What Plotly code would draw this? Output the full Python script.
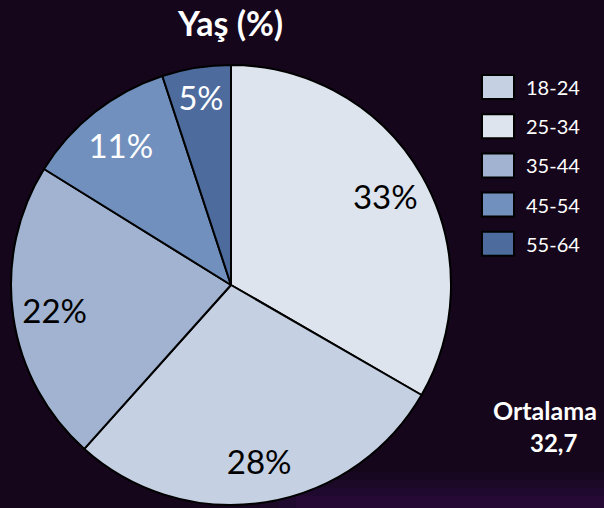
import plotly.graph_objects as go

# slices as drawn, clockwise from 12 o'clock
slice_labels = ["25-34", "18-24", "35-44", "45-54", "55-64"]
slice_values = [33, 28, 22, 11, 5]
slice_colors = ["#dde4ee", "#c5d0e2", "#a1b3d0", "#7190bd", "#4d6b9c"]
slice_text_colors = ["#000000", "#000000", "#000000", "#ffffff", "#ffffff"]

# legend order
legend_labels = ["18-24", "25-34", "35-44", "45-54", "55-64"]

title_text = "Yaş (%)"
avg_label = "Ortalama"
avg_value = "32,7"

W, H = 604, 508
FONT = "Lato"
pie_domain = dict(x = [11 / W, 451 / W], y = [3 / H, 443 / H])

fig = go.Figure()

# filled pie
fig.add_trace(go.Pie(
    labels = slice_labels,
    values = slice_values,
    textinfo = "none",
    marker = dict(colors = slice_colors, line = dict(color = "#000000", width = 2)),
    sort = False,
    direction = "clockwise",
    rotation = 0,
    showlegend = False,
    hoverinfo = "label+percent",
    domain = pie_domain,
))

# transparent ring on top just to carry the labels near the outer edge
fig.add_trace(go.Pie(
    labels = slice_labels,
    values = slice_values,
    hole = 0.62,
    text = [f"{v}%" for v in slice_values],
    textinfo = "text",
    textposition = "inside",
    insidetextorientation = "horizontal",
    insidetextfont = dict(family = FONT, size = 33, color = slice_text_colors),
    marker = dict(colors = ["rgba(0,0,0,0)"] * len(slice_values), line = dict(width = 0)),
    sort = False,
    direction = "clockwise",
    rotation = 0,
    showlegend = False,
    hoverinfo = "skip",
    domain = pie_domain,
))

shapes = []
# faint purple glow along the bottom edge
for i, op in enumerate([0.10, 0.14, 0.18, 0.22]):
    shapes.append(dict(type = "rect", xref = "paper", yref = "paper", layer = "below",
                       x0 = 0.40 + i * 0.03, x1 = 1.0, y0 = 0, y1 = (36 - i * 8) / H,
                       fillcolor = "#3a0f52", opacity = op, line = dict(width = 0)))

annotations = []
color_of = dict(zip(slice_labels, slice_colors))
for i, lab in enumerate(legend_labels):
    yc = 1 - (87 + i * 39.2) / H
    shapes.append(dict(type = "rect", xref = "paper", yref = "paper",
                       x0 = 482 / W, x1 = 514 / W, y0 = yc - 12 / H, y1 = yc + 12 / H,
                       fillcolor = color_of[lab], line = dict(color = "#000000", width = 2)))
    annotations.append(dict(text = lab, xref = "paper", yref = "paper", x = 524 / W, y = yc,
                            xanchor = "left", yanchor = "middle", showarrow = False,
                            font = dict(family = FONT, size = 20, color = "#ffffff")))

annotations.append(dict(text = "<b>" + title_text + "</b>", xref = "paper", yref = "paper",
                        x = 230 / W, y = 1, xanchor = "center", yanchor = "top",
                        showarrow = False, font = dict(family = FONT, size = 34, color = "#ffffff")))
annotations.append(dict(text = "<b>" + avg_label + "</b>", xref = "paper", yref = "paper",
                        x = 545 / W, y = 1 - 410 / H, xanchor = "center", yanchor = "middle",
                        showarrow = False, font = dict(family = FONT, size = 25, color = "#ffffff")))
annotations.append(dict(text = "<b>" + avg_value + "</b>", xref = "paper", yref = "paper",
                        x = 553 / W, y = 1 - 442 / H, xanchor = "center", yanchor = "middle",
                        showarrow = False, font = dict(family = FONT, size = 24, color = "#ffffff")))

fig.update_layout(
    width = W, height = H,
    margin = dict(l = 0, r = 0, t = 0, b = 0),
    paper_bgcolor = "#15061b",
    plot_bgcolor = "#15061b",
    shapes = shapes,
    annotations = annotations,
)

fig.write_html("out.html", config = {"displayModeBar": False},
               post_script = "document.body.style.margin='0';document.body.style.background='#15061b';")
